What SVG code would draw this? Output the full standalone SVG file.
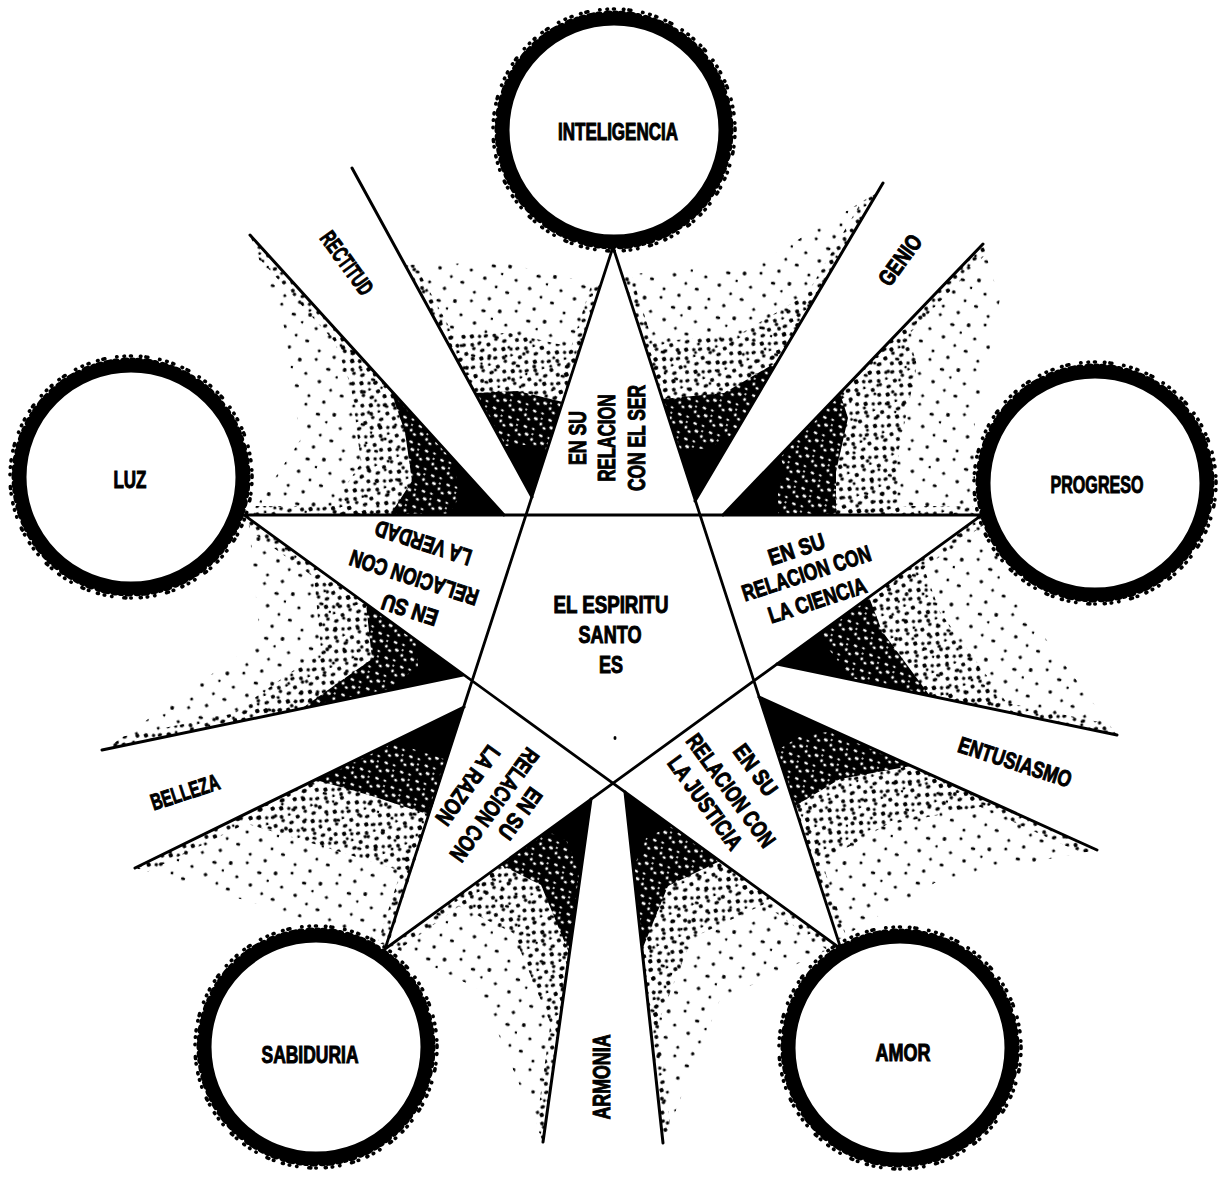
<svg xmlns="http://www.w3.org/2000/svg" xmlns:xlink="http://www.w3.org/1999/xlink" width="1223" height="1182" viewBox="0 0 1223 1182">
<style>
.lbl{font-family:"Liberation Sans",Arial,sans-serif;font-weight:700;font-size:23px;fill:#000;stroke:#000;stroke-width:1;text-anchor:middle;}
.star{fill:none;stroke:#000;stroke-width:2.8;stroke-linejoin:miter;}
.ray{stroke:#000;stroke-width:3;stroke-linecap:round;fill:none;}
.edge{stroke:url(#md);stroke-width:18;fill:none;}
.sp{fill:url(#sp);}
.md{fill:url(#md);}
.dn{fill:url(#dn);}
</style>
<defs>
<pattern id="sp" width="46" height="46" patternUnits="userSpaceOnUse" patternTransform="rotate(13)">
<circle cx="5" cy="7" r="1.9"/><circle cx="21" cy="3" r="1.5"/><ellipse cx="35" cy="10" rx="2.3" ry="1.6"/><circle cx="14" cy="19" r="1.6"/><circle cx="29" cy="24" r="1.8"/><circle cx="42" cy="30" r="1.4"/><ellipse cx="8" cy="33" rx="2.1" ry="1.5"/><circle cx="22" cy="40" r="1.5"/><circle cx="38" cy="43" r="1.7"/><circle cx="45" cy="16" r="1.3"/>
</pattern>
<pattern id="md" width="24" height="24" patternUnits="userSpaceOnUse" patternTransform="rotate(-23)">
<circle cx="3" cy="4" r="2.1"/><circle cx="12" cy="2" r="1.8"/><ellipse cx="19" cy="7" rx="2.5" ry="1.7"/><circle cx="7" cy="11" r="2"/><circle cx="15" cy="14" r="2.2"/><circle cx="22" cy="17" r="1.7"/><ellipse cx="4" cy="19" rx="2.3" ry="1.8"/><circle cx="12" cy="22" r="1.9"/><circle cx="20" cy="23" r="1.4"/>
</pattern>
<pattern id="dn" width="18" height="18" patternUnits="userSpaceOnUse" patternTransform="rotate(31)">
<rect width="18" height="18" fill="#000"/>
<ellipse cx="4" cy="5" rx="2" ry="1.3" fill="#fff"/><ellipse cx="12" cy="3" rx="1.5" ry="1.1" fill="#fff"/><ellipse cx="9" cy="11" rx="2.1" ry="1.4" fill="#fff"/><circle cx="16" cy="13" r="1.4" fill="#fff"/><ellipse cx="3" cy="15" rx="1.6" ry="1.2" fill="#fff"/><circle cx="14" cy="8" r="1" fill="#fff"/>
</pattern>
<g id="ring">
<circle r="111" fill="#fff" stroke="#000" stroke-width="13"/>
<circle r="116" fill="none" stroke="#000" stroke-width="7" stroke-linecap="round" stroke-dasharray="2 6 4 5 1 7 3 6 0.5 5"/>
<circle r="121" fill="none" stroke="#000" stroke-width="3.6" stroke-linecap="round" stroke-dasharray="0.5 6 1 9 0.5 5 2 12 0.3 7"/>
</g>
<clipPath id="c1a"><polygon points="532,497 405,265 500,262 601,285"/></clipPath>
<clipPath id="c1b"><polygon points="504,515 250,235 285,330 300,440 250,515"/></clipPath>
<clipPath id="c2a"><polygon points="695,501 878,192 760,262 622,275"/></clipPath>
<clipPath id="c2b"><polygon points="723,515 983,244 1000,300 975,420 975,515"/></clipPath>
<clipPath id="c3a"><polygon points="777,664 982,515 1010,590 1117,735"/></clipPath>
<clipPath id="c3b"><polygon points="759,697 1097,850 940,880 838,940"/></clipPath>
<clipPath id="c4a"><polygon points="591,799 390,946 480,990 543,1142"/></clipPath>
<clipPath id="c4b"><polygon points="625,792 663,1143 720,1000 836,946"/></clipPath>
<clipPath id="c5a"><polygon points="463,675 248,518 260,640 104,750"/></clipPath>
<clipPath id="c5b"><polygon points="464,707 135,868 260,905 388,946"/></clipPath>
</defs>
<rect width="1223" height="1182" fill="#fff"/>

<g id="shading">
<g clip-path="url(#c1a)">
<polygon class="sp" points="532,497 405,265 500,262 601,285"/>
<polygon class="md" points="532,497 443,335 510,333 580,349"/>
<path class="edge" d="M532,497 L352,168 M532,497 L613,247"/>
<polygon class="dn" points="532,497 475,393 518,391 563,402"/>
<polygon points="532,497 504,446 525,445 547,450"/>
</g>
<g clip-path="url(#c1b)">
<polygon class="sp" points="504,515 250,235 285,330 300,440 250,515"/>
<polygon class="md" points="504,515 326,319 351,386 361,463 326,515"/>
<path class="edge" d="M504,515 L250,235 M504,515 L244,515"/>
<polygon class="dn" points="504,515 390,389 405,432 412,481 390,515"/>
<polygon points="504,515 448,453 456,474 459,498 448,515"/>
</g>
<g clip-path="url(#c2a)">
<polygon class="sp" points="695,501 878,192 760,262 622,275"/>
<polygon class="md" points="695,501 823,285 740,334 644,343"/>
<path class="edge" d="M695,501 L883,183 M695,501 L613,247"/>
<polygon class="dn" points="695,501 777,362 724,393 662,399"/>
<polygon points="695,501 735,433 709,448 679,451"/>
</g>
<g clip-path="url(#c2b)">
<polygon class="sp" points="723,515 983,244 1000,300 975,420 975,515"/>
<polygon class="md" points="723,515 905,325 917,365 899,449 899,515"/>
<path class="edge" d="M723,515 L983,244 M723,515 L982,515"/>
<polygon class="dn" points="723,515 840,393 848,418 836,472 836,515"/>
<polygon points="723,515 780,455 784,468 778,494 778,515"/>
</g>
<g clip-path="url(#c3a)">
<polygon class="sp" points="777,664 982,515 1010,590 1117,735"/>
<polygon class="md" points="777,664 921,560 940,612 1015,714"/>
<path class="edge" d="M777,664 L1117,735 M777,664 L982,515"/>
<polygon class="dn" points="777,664 869,597 882,631 930,696"/>
<polygon points="777,664 822,631 828,648 852,680"/>
</g>
<g clip-path="url(#c3b)">
<polygon class="sp" points="759,697 1097,850 940,880 838,940"/>
<polygon class="md" points="759,697 996,804 886,825 814,867"/>
<path class="edge" d="M759,697 L1097,850 M759,697 L841,949"/>
<polygon class="dn" points="759,697 911,766 840,779 795,806"/>
<polygon points="759,697 833,731 799,737 776,751"/>
</g>
<g clip-path="url(#c4a)">
<polygon class="sp" points="591,799 390,946 480,990 543,1142"/>
<polygon class="md" points="591,799 450,902 513,933 557,1039"/>
<path class="edge" d="M591,799 L543,1142 M591,799 L385,949"/>
<polygon class="dn" points="591,799 501,865 541,885 569,953"/>
<polygon points="591,799 547,831 567,841 580,875"/>
</g>
<g clip-path="url(#c4b)">
<polygon class="sp" points="625,792 663,1143 720,1000 836,946"/>
<polygon class="md" points="625,792 652,1038 692,938 773,900"/>
<path class="edge" d="M625,792 L663,1143 M625,792 L841,949"/>
<polygon class="dn" points="625,792 642,950 668,886 720,861"/>
<polygon points="625,792 633,869 646,838 671,826"/>
</g>
<g clip-path="url(#c5a)">
<polygon class="sp" points="463,675 248,518 260,640 104,750"/>
<polygon class="md" points="463,675 313,565 321,651 212,728"/>
<path class="edge" d="M463,675 L102,750 M463,675 L244,515"/>
<polygon class="dn" points="463,675 366,604 372,659 301,709"/>
<polygon points="463,675 416,641 418,667 384,692"/>
</g>
<g clip-path="url(#c5b)">
<polygon class="sp" points="464,707 135,868 260,905 388,946"/>
<polygon class="md" points="464,707 234,820 321,846 411,874"/>
<path class="edge" d="M464,707 L135,868 M464,707 L385,949"/>
<polygon class="dn" points="464,707 316,780 372,796 430,815"/>
<polygon points="464,707 392,742 419,751 447,760"/>
</g>
</g>

<g id="connectors">
<path class="star" d="M613,247 L385,949 L982,515 L244,515 L841,949 Z"/>
</g>

<g id="wedge-rectitud"><line class="ray" x1="352" y1="168" x2="532" y2="497"/><line class="ray" x1="250" y1="235" x2="504" y2="515"/>
<text class="lbl" transform="translate(347,263) rotate(54)" y="8" textLength="73" lengthAdjust="spacingAndGlyphs">RECTITUD</text></g>
<g id="wedge-genio"><line class="ray" x1="883" y1="183" x2="695" y2="501"/><line class="ray" x1="983" y1="244" x2="723" y2="515"/>
<text class="lbl" transform="translate(900,260) rotate(-54)" y="8" textLength="57" lengthAdjust="spacingAndGlyphs">GENIO</text></g>
<g id="wedge-entusiasmo"><line class="ray" x1="1117" y1="735" x2="777" y2="664"/><line class="ray" x1="1097" y1="850" x2="759" y2="697"/>
<text class="lbl" transform="translate(1015,762) rotate(18)" y="8" textLength="118" lengthAdjust="spacingAndGlyphs">ENTUSIASMO</text></g>
<g id="wedge-armonia"><line class="ray" x1="543" y1="1142" x2="591" y2="799"/><line class="ray" x1="663" y1="1143" x2="625" y2="792"/>
<text class="lbl" transform="translate(602,1077) rotate(-90)" y="8" textLength="85" lengthAdjust="spacingAndGlyphs">ARMONIA</text></g>
<g id="wedge-belleza"><line class="ray" x1="102" y1="750" x2="463" y2="675"/><line class="ray" x1="135" y1="868" x2="464" y2="707"/>
<text class="lbl" transform="translate(185,792) rotate(-18)" y="8" textLength="71" lengthAdjust="spacingAndGlyphs">BELLEZA</text></g>

<g id="point-ser" transform="translate(613,635) rotate(-90)">
<text class="lbl" x="197" y="-27" textLength="54" lengthAdjust="spacingAndGlyphs">EN SU</text>
<text class="lbl" x="197" y="2" textLength="87" lengthAdjust="spacingAndGlyphs">RELACION</text>
<text class="lbl" x="197" y="32" textLength="106" lengthAdjust="spacingAndGlyphs">CON EL SER</text>
</g>
<g id="point-ciencia" transform="translate(613,635) rotate(-18)">
<text class="lbl" x="201" y="-17" textLength="58" lengthAdjust="spacingAndGlyphs">EN SU</text>
<text class="lbl" x="203" y="9" textLength="134" lengthAdjust="spacingAndGlyphs">RELACION CON</text>
<text class="lbl" x="205" y="38" textLength="102" lengthAdjust="spacingAndGlyphs">LA CIENCIA</text>
</g>
<g id="point-justicia" transform="translate(613,635) rotate(54)">
<text class="lbl" x="193" y="-28" textLength="58" lengthAdjust="spacingAndGlyphs">EN SU</text>
<text class="lbl" x="195" y="4" textLength="134" lengthAdjust="spacingAndGlyphs">RELACION CON</text>
<text class="lbl" x="190" y="32" textLength="110" lengthAdjust="spacingAndGlyphs">LA JUSTICIA</text>
</g>
<g id="point-razon" transform="translate(613,635) rotate(126)">
<text class="lbl" x="199" y="-22" textLength="58" lengthAdjust="spacingAndGlyphs">EN SU</text>
<text class="lbl" x="207" y="4" textLength="134" lengthAdjust="spacingAndGlyphs">RELACION CON</text>
<text class="lbl" x="207" y="37" textLength="92" lengthAdjust="spacingAndGlyphs">LA RAZON</text>
</g>
<g id="point-verdad" transform="translate(613,635) rotate(198)">
<text class="lbl" x="201" y="-31" textLength="58" lengthAdjust="spacingAndGlyphs">EN SU</text>
<text class="lbl" x="207" y="1" textLength="134" lengthAdjust="spacingAndGlyphs">RELACION CON</text>
<text class="lbl" x="209" y="37" textLength="100" lengthAdjust="spacingAndGlyphs">LA VERDAD</text>
</g>

<g id="center">
<text class="lbl" x="611" y="613" textLength="115" lengthAdjust="spacingAndGlyphs">EL ESPIRITU</text>
<text class="lbl" x="610" y="643" textLength="63" lengthAdjust="spacingAndGlyphs">SANTO</text>
<text class="lbl" x="611" y="673" textLength="24" lengthAdjust="spacingAndGlyphs">ES</text>
<ellipse cx="615" cy="738" rx="1.5" ry="2"/>
</g>

<g id="node-inteligencia"><use xlink:href="#ring" href="#ring" x="614" y="130"/><text class="lbl" x="618" y="140" textLength="120" lengthAdjust="spacingAndGlyphs">INTELIGENCIA</text></g>
<g id="node-progreso"><use xlink:href="#ring" href="#ring" x="1095" y="483"/><text class="lbl" x="1097" y="493" textLength="93" lengthAdjust="spacingAndGlyphs">PROGRESO</text></g>
<g id="node-luz"><use xlink:href="#ring" href="#ring" x="131" y="477"/><text class="lbl" x="130" y="488" textLength="33" lengthAdjust="spacingAndGlyphs">LUZ</text></g>
<g id="node-sabiduria"><use xlink:href="#ring" href="#ring" x="316" y="1047"/><text class="lbl" x="310" y="1063" textLength="97" lengthAdjust="spacingAndGlyphs">SABIDURIA</text></g>
<g id="node-amor"><use xlink:href="#ring" href="#ring" x="900" y="1048"/><text class="lbl" x="903" y="1061" textLength="55" lengthAdjust="spacingAndGlyphs">AMOR</text></g>
</svg>
